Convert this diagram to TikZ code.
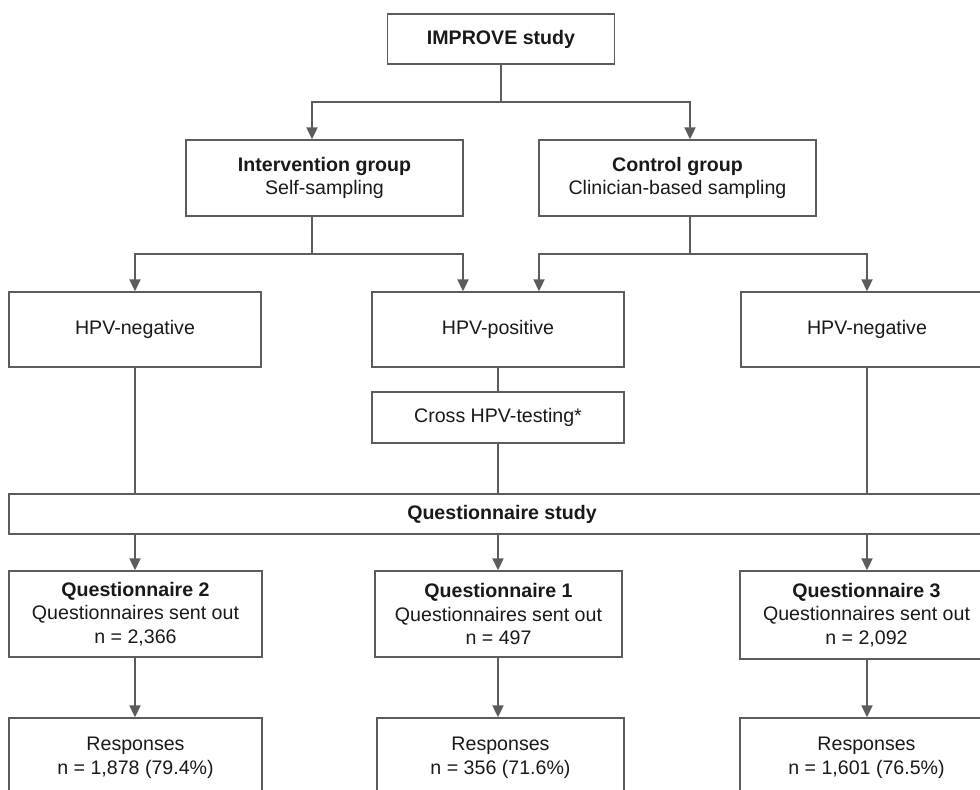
\documentclass[tikz,border=0pt]{standalone}
\usepackage{fontspec}
\setmainfont{Liberation Sans}
\usetikzlibrary{arrows.meta}
\definecolor{lnc}{RGB}{92,92,92}
\definecolor{txc}{RGB}{25,25,25}

\begin{document}
\begin{tikzpicture}[x=0.5pt,y=-0.5pt,draw=lnc,line width=0.75pt,
    box/.style={draw=lnc,inner sep=0pt,align=center,text=txc,
      font=\fontsize{9.8}{11.8}\selectfont},
    arr/.style={-{Triangle[length=6pt,width=5.6pt]}}]
      \useasboundingbox (0,0) rectangle (980,789);
      \clip (0,0) rectangle (980,789);
      \draw
        (501,39) node[box,minimum width=113.5pt,minimum height=25pt] (imp){\textbf{IMPROVE study}}
        (324.5,178) node[box,minimum width=138.5pt,minimum height=38pt] (int){\textbf{Intervention group}\\Self-sampling}
        (677.5,178) node[box,minimum width=138.5pt,minimum height=38pt] (ctl){\textbf{Control group}\\Clinician-based sampling}
        (135,329.5) node[box,minimum width=126pt,minimum height=37.5pt] (neg1){HPV-negative}
        (498,329.5) node[box,minimum width=126pt,minimum height=37.5pt] (pos){HPV-positive}
        (867,329.5) node[box,minimum width=126pt,minimum height=37.5pt] (neg2){HPV-negative}
        (498,417.5) node[box,minimum width=126pt,minimum height=25.5pt] (cross){Cross HPV-testing*}
        (502,514) node[box,minimum width=493pt,minimum height=20pt] (qs){\textbf{Questionnaire study}}
        (135.5,614) node[box,minimum width=126.5pt,minimum height=43pt] (q2){\textbf{Questionnaire 2}\\Questionnaires sent out\\n = 2,366}
        (498.5,614) node[box,minimum width=123.5pt,minimum height=43pt] (q1){\textbf{Questionnaire 1}\\Questionnaires sent out\\n = 497}
        (866.5,615) node[box,minimum width=126.5pt,minimum height=44pt] (q3){\textbf{Questionnaire 3}\\Questionnaires sent out\\n = 2,092}
        (135.5,758) node[box,minimum width=126.5pt,minimum height=40pt] (r2){Responses\\n = 1,878 (79.4\%)}
        (500.5,758) node[box,minimum width=123.5pt,minimum height=40pt] (r1){Responses\\n = 356 (71.6\%)}
        (866.5,758) node[box,minimum width=126.5pt,minimum height=40pt] (r3){Responses\\n = 1,601 (76.5\%)};
      % branch points
      \coordinate (j1) at (501,102);
      \coordinate (ka) at (312,102);
      \coordinate (kb) at (690,102);
      \coordinate (j2) at (312,254);
      \coordinate (kc) at (463,254);
      \coordinate (j3) at (690,254);
      \coordinate (kd) at (539,254);
      \draw (imp) -- (j1);
      \draw[arr] (j1) -| (int.north -| ka);
      \draw[arr] (j1) -| (ctl.north -| kb);
      \draw (int.south -| j2) -- (j2);
      \draw[arr] (j2) -| (neg1);
      \draw[arr] (j2) -| (pos.north -| kc);
      \draw (ctl.south -| j3) -- (j3);
      \draw[arr] (j3) -| (pos.north -| kd);
      \draw[arr] (j3) -| (neg2);
      % into the questionnaire study
      \draw (neg1) -- (qs.north -| neg1);
      \draw (pos) -- (cross);
      \draw (cross) -- (qs.north -| cross);
      \draw (neg2) -- (qs.north -| neg2);
      % questionnaires and responses
      \draw[arr] (qs.south -| neg1) -- (q2.north -| neg1);
      \draw[arr] (qs.south -| cross) -- (q1.north -| cross);
      \draw[arr] (qs.south -| neg2) -- (q3.north -| neg2);
      \draw[arr] (q2.south -| neg1) -- (r2.north -| neg1);
      \draw[arr] (q1.south -| cross) -- (r1.north -| cross);
      \draw[arr] (q3.south -| neg2) -- (r3.north -| neg2);
\end{tikzpicture}
\end{document}
